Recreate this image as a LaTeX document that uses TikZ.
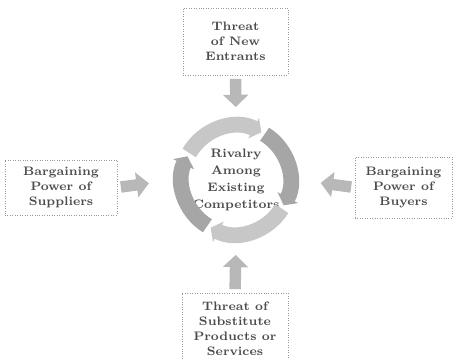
\documentclass[tikz,border=0pt]{standalone}
\usetikzlibrary{arrows.meta}
\begin{document}
\begin{tikzpicture}[
    forcebox/.style={rectangle, draw=black!40, densely dotted, text=black!70, align=center, inner sep=0pt, font=\fontsize{7}{8.5}\selectfont\bfseries},
    fatarrow/.style={draw=black!28, line width=6.5pt, -{Triangle[width=14pt,length=7pt]}},
    ringarrow/.style={line width=9pt, -{Triangle[width=13pt,length=5pt]}}
  ]
  \useasboundingbox (0,0) rectangle (9.12,7.2);

  % the five forces
  \node[forcebox, minimum width=2.1cm, minimum height=1.34cm] (new) at (4.71,6.37) {Threat\\of New\\Entrants};
  \node[forcebox, minimum width=2.24cm, minimum height=1.1cm] (sup) at (1.22,3.45) {Bargaining\\Power of\\Suppliers};
  \node[forcebox, minimum width=1.94cm, minimum height=1.22cm] (buy) at (8.07,3.45) {Bargaining\\Power of\\Buyers};
  \node[forcebox, minimum width=2.12cm, minimum height=1.44cm] (subst) at (4.7,0.62) {Threat of\\Substitute\\Products or\\Services};

  \node[circle, minimum size=2.48cm, inner sep=0pt, text=black!70, align=center,
        font=\fontsize{7}{9.6}\selectfont\bfseries] (riv) at (4.72,3.6) {Rivalry\\Among\\Existing\\Competitors};

  % ring of arrows round the rivalry
  \draw[ringarrow, draw=black!22] ([shift={(150:1.08)}]riv.center) arc (150:62:1.08);
  \draw[ringarrow, draw=black!35] ([shift={(58:1.08)}]riv.center) arc (58:-28:1.08);
  \draw[ringarrow, draw=black!22] ([shift={(-32:1.08)}]riv.center) arc (-32:-118:1.08);
  \draw[ringarrow, draw=black!35] ([shift={(-122:1.08)}]riv.center) arc (-122:-206:1.08);

  % forces pushing in
  \draw[fatarrow, shorten <=2pt, shorten >=6pt] (new.south) -- (riv.north);
  \draw[fatarrow, shorten <=2pt, shorten >=0.5cm] (sup.east) -- (riv.west);
  \draw[fatarrow, shorten <=2pt, shorten >=0.45cm] (buy.west) -- (riv.east);
  \draw[fatarrow, shorten <=2pt, shorten >=0.25cm] (subst.north) -- (riv.south);
\end{tikzpicture}
\end{document}
